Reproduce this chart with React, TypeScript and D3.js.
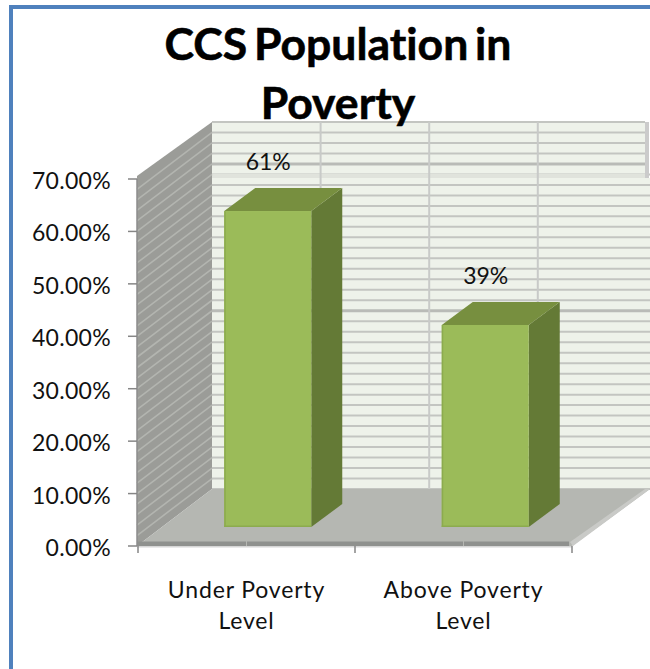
import React from "react";
import * as d3 from "d3";

const titleLines = ["CCS Population in", "Poverty"];
const categories = ["Under Poverty Level", "Above Poverty Level"];
const categoryLines = [["Under Poverty", "Level"], ["Above Poverty", "Level"]];
const shares = [61, 39];
const shareLabels = ["61%", "39%"];
const axisTicks = [0, 10, 20, 30, 40, 50, 60, 70];
const gridSteps = d3.range(0, 71, 2);
const heavyGridSteps = [34, 62];
const wallDivisions = [1, 2, 3];
const floorDivisions = [0.5, 1.5];

const FONT = "Lato, 'Open Sans', sans-serif";
const depth = { dx: 75, dy: -57 };
const barDepth = { dx: 31, dy: -23 };

// Front edge of the chart box, and the same scale pushed back to the rear wall.
const yFront = d3.scaleLinear().domain([0, 70]).range([546, 179]);
const yBack = d3.scaleLinear().domain([0, 70]).range([546 + depth.dy, 179 + depth.dy]);
// Bars stand in the middle of the floor, so their vertical scale is slightly shorter.
const yBar = d3.scaleLinear().domain([0, 70]).range([527, 164.4]);
const xAxis = d3.scaleLinear().domain([0, 2]).range([138, 572]);
const xWall = d3.scaleLinear().domain([0, 4]).range([212, 646.4]);
const xBar = d3.scaleBand<string>().domain(categories).range([159, 594]).paddingInner(0.6).paddingOuter(0.3);

const poly = (pts: [number, number][]) => {
  const p = d3.path();
  pts.forEach(([x, y], i) => (i ? p.lineTo(x, y) : p.moveTo(x, y)));
  p.closePath();
  return p.toString();
};

export default function App() {
  const x0 = xAxis(0);
  const x1 = xAxis(2);
  return (
    <svg
      width={650}
      height={669}
      viewBox="0 0 650 669"
      style={{ position: "absolute", left: 0, top: 0, background: "#fff", fontVariantLigatures: "none" }}
      fontFamily={FONT}
    >
      {/* Chart frame: only the top and left edges fall inside the view */}
      <rect x={9} y={5} width={641} height={4} fill="#4f81bd" />
      <rect x={9} y={5} width={4} height={664} fill="#4f81bd" />

      {/* Rear wall */}
      <rect x={212} y={122} width={433} height={56} fill="#eef2ea" />
      <rect x={212} y={178} width={438} height={311} fill="#eef2ea" />
      {gridSteps.map((v) => (
        <line
          key={v}
          x1={212}
          x2={v > 60 ? 645 : 650}
          y1={yBack(v)}
          y2={yBack(v)}
          stroke={heavyGridSteps.includes(v) ? "#b9bbb7" : "#c3c5c1"}
          strokeWidth={heavyGridSteps.includes(v) ? 3 : 2}
        />
      ))}
      <rect x={212} y={174} width={433} height={4} fill="#e0e3dc" />
      {wallDivisions.map((k) => (
        <line key={k} x1={xWall(k)} x2={xWall(k)} y1={122} y2={489} stroke="#c8cac8" strokeWidth={2} />
      ))}
      <rect x={645} y={122} width={4} height={56} fill="#cbcbcb" />

      {/* Side wall, its gridlines running from the front edge to the rear */}
      <path
        d={poly([[x0 - 1, yFront(70) - 3], [212, yBack(70)], [212, yBack(0)], [x0 - 1, yFront(0)]])}
        fill="#9b9c98"
      />
      {gridSteps.slice(1, -1).map((v) => (
        <line
          key={v}
          x1={x0 - 1}
          x2={212}
          y1={yFront(v)}
          y2={yBack(v)}
          stroke="#b3b5b0"
          strokeWidth={1.6}
        />
      ))}

      {/* Floor */}
      <path
        d={poly([[x0 - 1, 546], [212, 489], [650, 489], [x1, 546]])}
        fill="#b5b7b2"
      />
      <path d={poly([[x1 - 2, 542], [645, 489], [650, 489], [x1 + 1, 546]])} fill="#c9cac7" />
      <rect x={x0 - 1} y={541.5} width={x1 - x0 - 2} height={4.5} fill="#8f918e" />
      {floorDivisions.map((k) => (
        <line key={k} x1={xAxis(k)} x2={xAxis(k)} y1={541} y2={546} stroke="#b5b7b2" strokeWidth={1} />
      ))}
      <rect x={x0 - 1} y={546} width={x1 - x0 + 1} height={1.5} fill="#d6d6d6" />

      {/* Axis ticks */}
      <line x1={137} x2={137} y1={179} y2={546} stroke="#8c8c8c" strokeWidth={1.5} />
      {axisTicks.map((t) => (
        <line key={t} x1={128} x2={137} y1={yFront(t)} y2={yFront(t)} stroke="#868686" strokeWidth={1.5} />
      ))}
      {[0, 1, 2].map((k) => (
        <line key={k} x1={xAxis(k)} x2={xAxis(k)} y1={546} y2={553} stroke="#868686" strokeWidth={1.5} />
      ))}

      {/* Bars */}
      {categories.map((c, i) => {
        const left = xBar(c)!;
        const right = left + xBar.bandwidth();
        const top = yBar(shares[i]);
        const base = yBar(0);
        const { dx, dy } = barDepth;
        return (
          <g key={c}>
            <path
              d={poly([[right, top], [right + dx, top + dy], [right + dx, base + dy], [right, base]])}
              fill="#647a36"
            />
            <path
              d={poly([[left, top], [left + dx, top + dy], [right + dx, top + dy], [right, top]])}
              fill="#778f3f"
            />
            <rect x={left} y={top} width={right - left} height={base - top} fill="#9bbb59" />
            <rect x={left} y={top} width={1.5} height={base - top} fill="#8cab4e" />
            <rect x={left} y={base - 1.5} width={right - left} height={1.5} fill="#8cab4e" />
            <text x={left + 44} y={top + dy - 18} textAnchor="middle" fontSize={23} fill="#111">
              {shareLabels[i]}
            </text>
          </g>
        );
      })}

      {/* Axis labels */}
      {axisTicks.map((t) => (
        <text
          key={t}
          x={111}
          y={yFront(t) + 10}
          textAnchor="end"
          fontSize={23}
          letterSpacing={0.3}
          fill="#111"
        >
          {t.toFixed(2)}%
        </text>
      ))}
      {categoryLines.map((lines, i) =>
        lines.map((line, j) => (
          <text
            key={line + j}
            x={xAxis(i + 0.5)}
            y={598 + j * 31}
            textAnchor="middle"
            fontSize={23}
            letterSpacing={0.85}
            fill="#111"
          >
            {line}
          </text>
        )),
      )}

      {/* Title */}
      {titleLines.map((line, i) => (
        <text
          key={line}
          x={338}
          y={60 + i * 59}
          textAnchor="middle"
          fontSize={44.5}
          fontWeight={700}
          wordSpacing={-4}
          stroke="#000"
          strokeWidth={0.6}
          fill="#000"
        >
          {line}
        </text>
      ))}
    </svg>
  );
}
